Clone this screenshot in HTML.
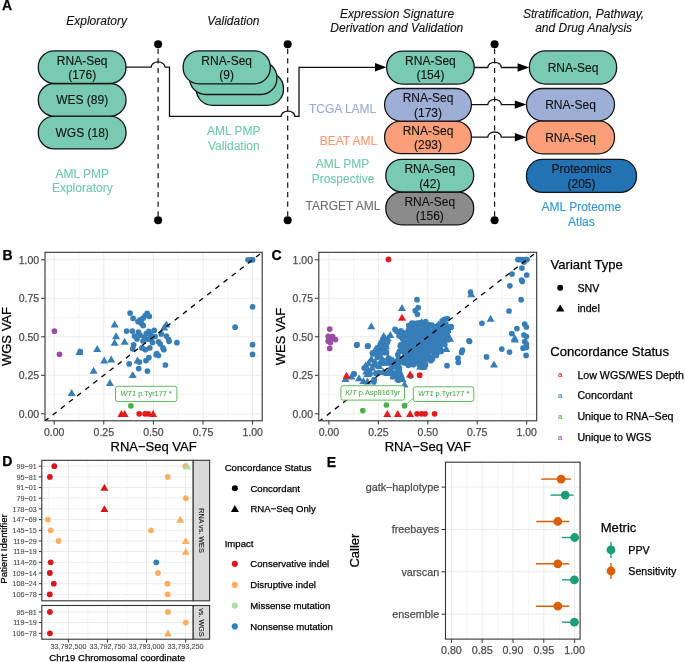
<!DOCTYPE html>
<html><head><meta charset="utf-8"><style>
html,body{margin:0;padding:0;background:#fff;width:685px;height:662px;overflow:hidden}
svg{display:block;will-change:transform;font-family:"Liberation Sans",sans-serif}
</style></head><body>
<svg width="685" height="662" viewBox="0 0 685 662">
<rect width="685" height="662" fill="#fff"/>
<text x="2.0" y="10.0" font-size="14" fill="#000" text-anchor="start" stroke="#000" stroke-width="0.25" font-weight="bold">A</text>
<text x="96.6" y="25.3" font-size="12" fill="#111" text-anchor="middle" stroke="#111" stroke-width="0.12" font-style="italic">Exploratory</text>
<text x="233.4" y="25.3" font-size="12" fill="#111" text-anchor="middle" stroke="#111" stroke-width="0.12" font-style="italic">Validation</text>
<text x="397.1" y="18.2" font-size="12" fill="#111" text-anchor="middle" stroke="#111" stroke-width="0.12" font-style="italic">Expression Signature</text>
<text x="396.8" y="32.2" font-size="12" fill="#111" text-anchor="middle" stroke="#111" stroke-width="0.12" font-style="italic">Derivation and Validation</text>
<text x="583.6" y="18.2" font-size="12" fill="#111" text-anchor="middle" stroke="#111" stroke-width="0.12" font-style="italic">Stratification, Pathway,</text>
<text x="583.6" y="32.2" font-size="12" fill="#111" text-anchor="middle" stroke="#111" stroke-width="0.12" font-style="italic">and Drug Analysis</text>
<line x1="158.1" y1="44.3" x2="158.1" y2="220.2" stroke="#111" stroke-width="1.2" stroke-dasharray="5.2 4.35" stroke-dashoffset="5.05"/>
<circle cx="158.1" cy="44.3" r="4" fill="#000"/>
<circle cx="158.1" cy="220.2" r="4" fill="#000"/>
<line x1="287.7" y1="44.3" x2="287.7" y2="220.2" stroke="#111" stroke-width="1.2" stroke-dasharray="5.2 4.35" stroke-dashoffset="5.05"/>
<circle cx="287.7" cy="44.3" r="4" fill="#000"/>
<circle cx="287.7" cy="220.2" r="4" fill="#000"/>
<line x1="494.6" y1="44.3" x2="494.6" y2="220.2" stroke="#111" stroke-width="1.2" stroke-dasharray="5.2 4.35" stroke-dashoffset="5.05"/>
<circle cx="494.6" cy="44.3" r="4" fill="#000"/>
<circle cx="494.6" cy="220.2" r="4" fill="#000"/>
<path d="M126,67.2 H151.1 A7,5.3 0 0 1 165.1,67.2 H169.5 V116.3 H281.1 A6.9,5.2 0 0 1 294.9,116.3 H299 V67.3 H377" fill="none" stroke="#111" stroke-width="1.3"/>
<path d="M386.6,67.3 L375.0,63.099999999999994 L375.0,71.5 Z" fill="#000"/>
<path d="M474.2,67.5 H487.8 A6.8,5.2 0 0 1 501.4,67.5 H519.2" fill="none" stroke="#111" stroke-width="1.3"/>
<path d="M529.2,67.5 L517.6,63.3 L517.6,71.7 Z" fill="#000"/>
<path d="M471.6,104.6 H487.8 A6.8,5.2 0 0 1 501.4,104.6 H516.4" fill="none" stroke="#111" stroke-width="1.3"/>
<path d="M526.4,104.6 L514.8,100.39999999999999 L514.8,108.8 Z" fill="#000"/>
<path d="M471.4,137.2 H487.8 A6.8,5.2 0 0 1 501.4,137.2 H516.4" fill="none" stroke="#111" stroke-width="1.3"/>
<path d="M526.4,137.2 L514.8,133.0 L514.8,141.39999999999998 Z" fill="#000"/>
<rect x="38.3" y="116.2" width="87.7" height="32.7" rx="16" ry="16" fill="#78cbb2" stroke="#141414" stroke-width="1.3"/>
<text x="82.2" y="136.9" font-size="12" fill="#111" text-anchor="middle" stroke="#111" stroke-width="0.12" >WGS (18)</text>
<rect x="38.3" y="83.5" width="87.7" height="32.7" rx="16" ry="16" fill="#78cbb2" stroke="#141414" stroke-width="1.3"/>
<text x="82.2" y="104.1" font-size="12" fill="#111" text-anchor="middle" stroke="#111" stroke-width="0.12" >WES (89)</text>
<rect x="38.3" y="50.8" width="87.7" height="32.7" rx="16" ry="16" fill="#78cbb2" stroke="#141414" stroke-width="1.3"/>
<text x="82.2" y="64.6" font-size="12" fill="#111" text-anchor="middle" stroke="#111" stroke-width="0.12" >RNA-Seq</text>
<text x="82.2" y="79.0" font-size="12" fill="#111" text-anchor="middle" stroke="#111" stroke-width="0.12" >(176)</text>
<rect x="196.29999999999998" y="72.3" width="87.2" height="33" rx="16" ry="16" fill="#78cbb2" stroke="#141414" stroke-width="1.3"/>
<text x="239.9" y="93.1" font-size="12" fill="#111" text-anchor="middle" stroke="#111" stroke-width="0.12" ></text>
<rect x="189.7" y="61.5" width="87.2" height="33" rx="16" ry="16" fill="#78cbb2" stroke="#141414" stroke-width="1.3"/>
<text x="233.3" y="82.3" font-size="12" fill="#111" text-anchor="middle" stroke="#111" stroke-width="0.12" ></text>
<rect x="183.1" y="50.8" width="87.2" height="33" rx="16" ry="16" fill="#78cbb2" stroke="#141414" stroke-width="1.3"/>
<text x="226.7" y="64.6" font-size="12" fill="#111" text-anchor="middle" stroke="#111" stroke-width="0.12" >RNA-Seq</text>
<text x="226.7" y="79.0" font-size="12" fill="#111" text-anchor="middle" stroke="#111" stroke-width="0.12" >(9)</text>
<rect x="386.7" y="51.1" width="87.5" height="33" rx="16" ry="16" fill="#78cbb2" stroke="#141414" stroke-width="1.3"/>
<text x="430.4" y="64.9" font-size="12" fill="#111" text-anchor="middle" stroke="#111" stroke-width="0.12" >RNA-Seq</text>
<text x="430.4" y="79.3" font-size="12" fill="#111" text-anchor="middle" stroke="#111" stroke-width="0.12" >(154)</text>
<rect x="384.6" y="121.1" width="86.8" height="32.5" rx="16" ry="16" fill="#fc9f78" stroke="#141414" stroke-width="1.3"/>
<text x="428.0" y="134.9" font-size="12" fill="#111" text-anchor="middle" stroke="#111" stroke-width="0.12" >RNA-Seq</text>
<text x="428.0" y="149.3" font-size="12" fill="#111" text-anchor="middle" stroke="#111" stroke-width="0.12" >(293)</text>
<rect x="384.6" y="88.5" width="86.8" height="32.6" rx="16" ry="16" fill="#9dafd7" stroke="#141414" stroke-width="1.3"/>
<text x="428.0" y="102.3" font-size="12" fill="#111" text-anchor="middle" stroke="#111" stroke-width="0.12" >RNA-Seq</text>
<text x="428.0" y="116.7" font-size="12" fill="#111" text-anchor="middle" stroke="#111" stroke-width="0.12" >(173)</text>
<rect x="385.8" y="192" width="87.9" height="32.8" rx="16" ry="16" fill="#8b8b8b" stroke="#141414" stroke-width="1.3"/>
<text x="429.8" y="205.8" font-size="12" fill="#111" text-anchor="middle" stroke="#111" stroke-width="0.12" >RNA-Seq</text>
<text x="429.8" y="220.2" font-size="12" fill="#111" text-anchor="middle" stroke="#111" stroke-width="0.12" >(156)</text>
<rect x="385.8" y="159.3" width="87.9" height="32.7" rx="16" ry="16" fill="#78cbb2" stroke="#141414" stroke-width="1.3"/>
<text x="429.8" y="173.1" font-size="12" fill="#111" text-anchor="middle" stroke="#111" stroke-width="0.12" >RNA-Seq</text>
<text x="429.8" y="187.5" font-size="12" fill="#111" text-anchor="middle" stroke="#111" stroke-width="0.12" >(42)</text>
<rect x="529.4" y="50.8" width="87.2" height="33.3" rx="16" ry="16" fill="#78cbb2" stroke="#141414" stroke-width="1.3"/>
<text x="573.0" y="71.7" font-size="12" fill="#111" text-anchor="middle" stroke="#111" stroke-width="0.12" >RNA-Seq</text>
<rect x="526.5" y="120.8" width="88" height="33" rx="16" ry="16" fill="#fc9f78" stroke="#141414" stroke-width="1.3"/>
<text x="570.5" y="141.6" font-size="12" fill="#111" text-anchor="middle" stroke="#111" stroke-width="0.12" >RNA-Seq</text>
<rect x="526.5" y="88.5" width="88" height="32.3" rx="16" ry="16" fill="#9dafd7" stroke="#141414" stroke-width="1.3"/>
<text x="570.5" y="109.0" font-size="12" fill="#111" text-anchor="middle" stroke="#111" stroke-width="0.12" >RNA-Seq</text>
<rect x="526.5" y="159.4" width="110" height="33" rx="16" ry="16" fill="#2272b4" stroke="#141414" stroke-width="1.3"/>
<text x="581.5" y="173.2" font-size="12" fill="#111" text-anchor="middle" stroke="#111" stroke-width="0.12" >Proteomics</text>
<text x="581.5" y="187.6" font-size="12" fill="#111" text-anchor="middle" stroke="#111" stroke-width="0.12" >(205)</text>
<text x="82.3" y="177.7" font-size="12" fill="#72c9ad" text-anchor="middle" stroke="#72c9ad" stroke-width="0.12" >AML PMP</text>
<text x="82.3" y="192.0" font-size="12" fill="#72c9ad" text-anchor="middle" stroke="#72c9ad" stroke-width="0.12" >Exploratory</text>
<text x="233.8" y="135.2" font-size="12" fill="#72c9ad" text-anchor="middle" stroke="#72c9ad" stroke-width="0.12" >AML PMP</text>
<text x="233.8" y="149.5" font-size="12" fill="#72c9ad" text-anchor="middle" stroke="#72c9ad" stroke-width="0.12" >Validation</text>
<text x="342.6" y="112.8" font-size="12" fill="#9aabd5" text-anchor="middle" stroke="#9aabd5" stroke-width="0.12" >TCGA LAML</text>
<text x="348.5" y="144.8" font-size="12" fill="#fb9a72" text-anchor="middle" stroke="#fb9a72" stroke-width="0.12" >BEAT AML</text>
<text x="342.6" y="168.4" font-size="12" fill="#72c9ad" text-anchor="middle" stroke="#72c9ad" stroke-width="0.12" >AML PMP</text>
<text x="343.0" y="182.9" font-size="12" fill="#72c9ad" text-anchor="middle" stroke="#72c9ad" stroke-width="0.12" >Prospective</text>
<text x="343.0" y="210.1" font-size="12" fill="#707070" text-anchor="middle" stroke="#707070" stroke-width="0.12" >TARGET AML</text>
<text x="581.4" y="210.8" font-size="12" fill="#3596d2" text-anchor="middle" stroke="#3596d2" stroke-width="0.12" >AML Proteome</text>
<text x="581.4" y="225.5" font-size="12" fill="#3596d2" text-anchor="middle" stroke="#3596d2" stroke-width="0.12" >Atlas</text>
<text x="2.6" y="259.8" font-size="14" fill="#000" text-anchor="start" stroke="#000" stroke-width="0.25" font-weight="bold">B</text>
<clipPath id="cb"><rect x="45.0" y="252.3" width="217.2" height="168.5"/></clipPath>
<rect x="45.0" y="252.3" width="217.2" height="168.5" fill="#fff"/>
<line x1="54.2" y1="252.3" x2="54.2" y2="420.8" stroke="#ebebeb" stroke-width="1.0"/>
<line x1="45.0" y1="413.8" x2="262.2" y2="413.8" stroke="#ebebeb" stroke-width="1.0"/>
<line x1="79.0" y1="252.3" x2="79.0" y2="420.8" stroke="#ececec" stroke-width="0.6"/>
<line x1="45.0" y1="394.6" x2="262.2" y2="394.6" stroke="#ececec" stroke-width="0.6"/>
<line x1="103.8" y1="252.3" x2="103.8" y2="420.8" stroke="#ebebeb" stroke-width="1.0"/>
<line x1="45.0" y1="375.3" x2="262.2" y2="375.3" stroke="#ebebeb" stroke-width="1.0"/>
<line x1="128.6" y1="252.3" x2="128.6" y2="420.8" stroke="#ececec" stroke-width="0.6"/>
<line x1="45.0" y1="356.1" x2="262.2" y2="356.1" stroke="#ececec" stroke-width="0.6"/>
<line x1="153.4" y1="252.3" x2="153.4" y2="420.8" stroke="#ebebeb" stroke-width="1.0"/>
<line x1="45.0" y1="336.8" x2="262.2" y2="336.8" stroke="#ebebeb" stroke-width="1.0"/>
<line x1="178.2" y1="252.3" x2="178.2" y2="420.8" stroke="#ececec" stroke-width="0.6"/>
<line x1="45.0" y1="317.6" x2="262.2" y2="317.6" stroke="#ececec" stroke-width="0.6"/>
<line x1="203.0" y1="252.3" x2="203.0" y2="420.8" stroke="#ebebeb" stroke-width="1.0"/>
<line x1="45.0" y1="298.3" x2="262.2" y2="298.3" stroke="#ebebeb" stroke-width="1.0"/>
<line x1="227.8" y1="252.3" x2="227.8" y2="420.8" stroke="#ececec" stroke-width="0.6"/>
<line x1="45.0" y1="279.1" x2="262.2" y2="279.1" stroke="#ececec" stroke-width="0.6"/>
<line x1="252.6" y1="252.3" x2="252.6" y2="420.8" stroke="#ebebeb" stroke-width="1.0"/>
<line x1="45.0" y1="259.8" x2="262.2" y2="259.8" stroke="#ebebeb" stroke-width="1.0"/>
<line x1="41.0" y1="413.8" x2="45.0" y2="413.8" stroke="#333" stroke-width="1"/>
<line x1="54.2" y1="420.8" x2="54.2" y2="424.6" stroke="#333" stroke-width="1"/>
<text x="39.2" y="417.6" font-size="10.5" fill="#4d4d4d" text-anchor="end" stroke="#4d4d4d" stroke-width="0.25" >0.00</text>
<text x="54.2" y="436.2" font-size="10.5" fill="#4d4d4d" text-anchor="middle" stroke="#4d4d4d" stroke-width="0.25" >0.00</text>
<line x1="41.0" y1="375.3" x2="45.0" y2="375.3" stroke="#333" stroke-width="1"/>
<line x1="103.8" y1="420.8" x2="103.8" y2="424.6" stroke="#333" stroke-width="1"/>
<text x="39.2" y="379.1" font-size="10.5" fill="#4d4d4d" text-anchor="end" stroke="#4d4d4d" stroke-width="0.25" >0.25</text>
<text x="103.8" y="436.2" font-size="10.5" fill="#4d4d4d" text-anchor="middle" stroke="#4d4d4d" stroke-width="0.25" >0.25</text>
<line x1="41.0" y1="336.8" x2="45.0" y2="336.8" stroke="#333" stroke-width="1"/>
<line x1="153.4" y1="420.8" x2="153.4" y2="424.6" stroke="#333" stroke-width="1"/>
<text x="39.2" y="340.6" font-size="10.5" fill="#4d4d4d" text-anchor="end" stroke="#4d4d4d" stroke-width="0.25" >0.50</text>
<text x="153.4" y="436.2" font-size="10.5" fill="#4d4d4d" text-anchor="middle" stroke="#4d4d4d" stroke-width="0.25" >0.50</text>
<line x1="41.0" y1="298.3" x2="45.0" y2="298.3" stroke="#333" stroke-width="1"/>
<line x1="203.0" y1="420.8" x2="203.0" y2="424.6" stroke="#333" stroke-width="1"/>
<text x="39.2" y="302.1" font-size="10.5" fill="#4d4d4d" text-anchor="end" stroke="#4d4d4d" stroke-width="0.25" >0.75</text>
<text x="203.0" y="436.2" font-size="10.5" fill="#4d4d4d" text-anchor="middle" stroke="#4d4d4d" stroke-width="0.25" >0.75</text>
<line x1="41.0" y1="259.8" x2="45.0" y2="259.8" stroke="#333" stroke-width="1"/>
<line x1="252.6" y1="420.8" x2="252.6" y2="424.6" stroke="#333" stroke-width="1"/>
<text x="39.2" y="263.6" font-size="10.5" fill="#4d4d4d" text-anchor="end" stroke="#4d4d4d" stroke-width="0.25" >1.00</text>
<text x="252.6" y="436.2" font-size="10.5" fill="#4d4d4d" text-anchor="middle" stroke="#4d4d4d" stroke-width="0.25" >1.00</text>
<text x="153.6" y="450.7" font-size="13" fill="#000" text-anchor="middle" stroke="#000" stroke-width="0.25" >RNA−Seq VAF</text>
<text x="0" y="0" font-size="13" fill="#000" stroke="#000" stroke-width="0.25" text-anchor="middle" transform="translate(11.0,336.55) rotate(-90)">WGS VAF</text>
<g clip-path="url(#cb)">
<circle cx="130.1" cy="313.1" r="2.85" fill="#377eb8"/>
<circle cx="133.1" cy="318.3" r="2.85" fill="#377eb8"/>
<circle cx="147.2" cy="313.3" r="2.85" fill="#377eb8"/>
<circle cx="149.3" cy="316.4" r="2.85" fill="#377eb8"/>
<circle cx="145.4" cy="315.5" r="2.85" fill="#377eb8"/>
<circle cx="143.2" cy="318.1" r="2.85" fill="#377eb8"/>
<circle cx="140.1" cy="319.9" r="2.85" fill="#377eb8"/>
<circle cx="138.0" cy="321.6" r="2.85" fill="#377eb8"/>
<circle cx="143.2" cy="325.6" r="2.85" fill="#377eb8"/>
<circle cx="141.5" cy="323.4" r="2.85" fill="#377eb8"/>
<circle cx="126.6" cy="331.1" r="2.85" fill="#377eb8"/>
<circle cx="132.3" cy="331.1" r="2.85" fill="#377eb8"/>
<circle cx="138.4" cy="332.2" r="2.85" fill="#377eb8"/>
<circle cx="134.5" cy="336.1" r="2.85" fill="#377eb8"/>
<circle cx="140.1" cy="335.2" r="2.85" fill="#377eb8"/>
<circle cx="146.3" cy="333.5" r="2.85" fill="#377eb8"/>
<circle cx="148.9" cy="331.3" r="2.85" fill="#377eb8"/>
<circle cx="154.2" cy="330.4" r="2.85" fill="#377eb8"/>
<circle cx="144.5" cy="337.4" r="2.85" fill="#377eb8"/>
<circle cx="148.0" cy="339.2" r="2.85" fill="#377eb8"/>
<circle cx="151.5" cy="338.3" r="2.85" fill="#377eb8"/>
<circle cx="155.0" cy="336.5" r="2.85" fill="#377eb8"/>
<circle cx="161.2" cy="333.9" r="2.85" fill="#377eb8"/>
<circle cx="166.4" cy="336.1" r="2.85" fill="#377eb8"/>
<circle cx="168.6" cy="339.6" r="2.85" fill="#377eb8"/>
<circle cx="169.0" cy="341.3" r="2.85" fill="#377eb8"/>
<circle cx="176.9" cy="342.7" r="2.85" fill="#377eb8"/>
<circle cx="158.5" cy="341.8" r="2.85" fill="#377eb8"/>
<circle cx="160.3" cy="344.0" r="2.85" fill="#377eb8"/>
<circle cx="162.9" cy="347.9" r="2.85" fill="#377eb8"/>
<circle cx="163.8" cy="349.7" r="2.85" fill="#377eb8"/>
<circle cx="133.6" cy="344.9" r="2.85" fill="#377eb8"/>
<circle cx="132.7" cy="348.8" r="2.85" fill="#377eb8"/>
<circle cx="141.9" cy="347.9" r="2.85" fill="#377eb8"/>
<circle cx="145.4" cy="349.7" r="2.85" fill="#377eb8"/>
<circle cx="149.8" cy="347.9" r="2.85" fill="#377eb8"/>
<circle cx="156.8" cy="353.6" r="2.85" fill="#377eb8"/>
<circle cx="156.2" cy="354.7" r="2.85" fill="#377eb8"/>
<circle cx="158.4" cy="355.5" r="2.85" fill="#377eb8"/>
<circle cx="148.9" cy="357.7" r="2.85" fill="#377eb8"/>
<circle cx="146.0" cy="360.6" r="2.85" fill="#377eb8"/>
<circle cx="139.4" cy="362.0" r="2.85" fill="#377eb8"/>
<circle cx="129.2" cy="363.9" r="2.85" fill="#377eb8"/>
<circle cx="138.7" cy="368.6" r="2.85" fill="#377eb8"/>
<circle cx="147.4" cy="371.1" r="2.85" fill="#377eb8"/>
<circle cx="165.4" cy="365.0" r="2.85" fill="#377eb8"/>
<circle cx="80.3" cy="351.6" r="2.85" fill="#377eb8"/>
<circle cx="252.6" cy="306.8" r="2.85" fill="#377eb8"/>
<circle cx="235.1" cy="327.2" r="2.85" fill="#377eb8"/>
<circle cx="252.6" cy="344.7" r="2.85" fill="#377eb8"/>
<circle cx="252.6" cy="354.4" r="2.85" fill="#377eb8"/>
<circle cx="248.0" cy="259.8" r="2.85" fill="#377eb8"/>
<circle cx="250.6" cy="259.8" r="2.85" fill="#377eb8"/>
<circle cx="252.6" cy="259.8" r="2.85" fill="#377eb8"/>
<circle cx="150.5" cy="334.5" r="2.85" fill="#377eb8"/>
<circle cx="143.0" cy="341.0" r="2.85" fill="#377eb8"/>
<circle cx="152.5" cy="342.5" r="2.85" fill="#377eb8"/>
<circle cx="137.0" cy="339.0" r="2.85" fill="#377eb8"/>
<path d="M114.6,320.6 L118.6,327.6 L110.6,327.6 Z" fill="#377eb8"/>
<path d="M116.1,332.3 L120.1,339.3 L112.1,339.3 Z" fill="#377eb8"/>
<path d="M114.6,338.8 L118.6,345.8 L110.6,345.8 Z" fill="#377eb8"/>
<path d="M124.6,337.8 L128.6,344.8 L120.6,344.8 Z" fill="#377eb8"/>
<path d="M104.2,356.4 L108.2,363.4 L100.2,363.4 Z" fill="#377eb8"/>
<path d="M111.2,355.6 L115.2,362.6 L107.2,362.6 Z" fill="#377eb8"/>
<path d="M137.5,356.4 L141.5,363.4 L133.5,363.4 Z" fill="#377eb8"/>
<path d="M132.8,371.0 L136.8,378.0 L128.8,378.0 Z" fill="#377eb8"/>
<path d="M166.4,320.6 L170.4,327.6 L162.4,327.6 Z" fill="#377eb8"/>
<path d="M164.2,323.5 L168.2,330.5 L160.2,330.5 Z" fill="#377eb8"/>
<path d="M71.7,389.1 L75.7,396.1 L67.7,396.1 Z" fill="#377eb8"/>
<path d="M79.4,347.9 L83.4,354.9 L75.4,354.9 Z" fill="#377eb8"/>
<path d="M97.2,345.1 L101.2,352.1 L93.2,352.1 Z" fill="#377eb8"/>
<path d="M93.6,366.8 L97.6,373.8 L89.6,373.8 Z" fill="#377eb8"/>
<path d="M109.9,379.1 L113.9,386.1 L105.9,386.1 Z" fill="#377eb8"/>
<circle cx="54.4" cy="331.2" r="2.85" fill="#984ea3"/>
<circle cx="59.5" cy="354.3" r="2.85" fill="#984ea3"/>
<circle cx="130.9" cy="405.8" r="2.85" fill="#4daf4a"/>
<path d="M121.4,410.1 L125.4,417.1 L117.4,417.1 Z" fill="#e41a1c"/>
<path d="M124.6,410.1 L128.6,417.1 L120.6,417.1 Z" fill="#e41a1c"/>
<path d="M153.1,410.1 L157.1,417.1 L149.1,417.1 Z" fill="#e41a1c"/>
<circle cx="139.2" cy="413.8" r="2.85" fill="#e41a1c"/>
<circle cx="145.0" cy="413.8" r="2.85" fill="#e41a1c"/>
<circle cx="148.2" cy="413.8" r="2.85" fill="#e41a1c"/>
<line x1="36.34" y1="427.66" x2="270.46" y2="245.94" stroke="#000" stroke-width="1.3" stroke-dasharray="5.0 5.3" stroke-dashoffset="10.24"/>
</g>
<rect x="45.0" y="252.3" width="217.2" height="168.5" fill="none" stroke="#333" stroke-width="1.1"/>
<rect x="115.5" y="386.3" width="61.4" height="15.3" rx="2" fill="#fff" stroke="#62b960" stroke-width="1"/>
<text x="146.2" y="396.3" font-size="7.4" fill="#4dae4a" stroke="#4dae4a" stroke-width="0.1" text-anchor="middle"><tspan font-style="italic">WT1</tspan> p.Tyr177 *</text>
<text x="271.5" y="259.8" font-size="14" fill="#000" text-anchor="start" stroke="#000" stroke-width="0.25" font-weight="bold">C</text>
<clipPath id="cc"><rect x="318.8" y="252.3" width="217.90000000000003" height="168.5"/></clipPath>
<rect x="318.8" y="252.3" width="217.90000000000003" height="168.5" fill="#fff"/>
<line x1="328.9" y1="252.3" x2="328.9" y2="420.8" stroke="#ebebeb" stroke-width="1.0"/>
<line x1="318.8" y1="413.8" x2="536.7" y2="413.8" stroke="#ebebeb" stroke-width="1.0"/>
<line x1="353.6" y1="252.3" x2="353.6" y2="420.8" stroke="#ececec" stroke-width="0.6"/>
<line x1="318.8" y1="394.6" x2="536.7" y2="394.6" stroke="#ececec" stroke-width="0.6"/>
<line x1="378.4" y1="252.3" x2="378.4" y2="420.8" stroke="#ebebeb" stroke-width="1.0"/>
<line x1="318.8" y1="375.3" x2="536.7" y2="375.3" stroke="#ebebeb" stroke-width="1.0"/>
<line x1="403.1" y1="252.3" x2="403.1" y2="420.8" stroke="#ececec" stroke-width="0.6"/>
<line x1="318.8" y1="356.1" x2="536.7" y2="356.1" stroke="#ececec" stroke-width="0.6"/>
<line x1="427.8" y1="252.3" x2="427.8" y2="420.8" stroke="#ebebeb" stroke-width="1.0"/>
<line x1="318.8" y1="336.8" x2="536.7" y2="336.8" stroke="#ebebeb" stroke-width="1.0"/>
<line x1="452.5" y1="252.3" x2="452.5" y2="420.8" stroke="#ececec" stroke-width="0.6"/>
<line x1="318.8" y1="317.6" x2="536.7" y2="317.6" stroke="#ececec" stroke-width="0.6"/>
<line x1="477.2" y1="252.3" x2="477.2" y2="420.8" stroke="#ebebeb" stroke-width="1.0"/>
<line x1="318.8" y1="298.3" x2="536.7" y2="298.3" stroke="#ebebeb" stroke-width="1.0"/>
<line x1="502.0" y1="252.3" x2="502.0" y2="420.8" stroke="#ececec" stroke-width="0.6"/>
<line x1="318.8" y1="279.1" x2="536.7" y2="279.1" stroke="#ececec" stroke-width="0.6"/>
<line x1="526.7" y1="252.3" x2="526.7" y2="420.8" stroke="#ebebeb" stroke-width="1.0"/>
<line x1="318.8" y1="259.8" x2="536.7" y2="259.8" stroke="#ebebeb" stroke-width="1.0"/>
<line x1="314.8" y1="413.8" x2="318.8" y2="413.8" stroke="#333" stroke-width="1"/>
<line x1="328.9" y1="420.8" x2="328.9" y2="424.6" stroke="#333" stroke-width="1"/>
<text x="313.0" y="417.6" font-size="10.5" fill="#4d4d4d" text-anchor="end" stroke="#4d4d4d" stroke-width="0.25" >0.00</text>
<text x="328.9" y="436.2" font-size="10.5" fill="#4d4d4d" text-anchor="middle" stroke="#4d4d4d" stroke-width="0.25" >0.00</text>
<line x1="314.8" y1="375.3" x2="318.8" y2="375.3" stroke="#333" stroke-width="1"/>
<line x1="378.4" y1="420.8" x2="378.4" y2="424.6" stroke="#333" stroke-width="1"/>
<text x="313.0" y="379.1" font-size="10.5" fill="#4d4d4d" text-anchor="end" stroke="#4d4d4d" stroke-width="0.25" >0.25</text>
<text x="378.4" y="436.2" font-size="10.5" fill="#4d4d4d" text-anchor="middle" stroke="#4d4d4d" stroke-width="0.25" >0.25</text>
<line x1="314.8" y1="336.8" x2="318.8" y2="336.8" stroke="#333" stroke-width="1"/>
<line x1="427.8" y1="420.8" x2="427.8" y2="424.6" stroke="#333" stroke-width="1"/>
<text x="313.0" y="340.6" font-size="10.5" fill="#4d4d4d" text-anchor="end" stroke="#4d4d4d" stroke-width="0.25" >0.50</text>
<text x="427.8" y="436.2" font-size="10.5" fill="#4d4d4d" text-anchor="middle" stroke="#4d4d4d" stroke-width="0.25" >0.50</text>
<line x1="314.8" y1="298.3" x2="318.8" y2="298.3" stroke="#333" stroke-width="1"/>
<line x1="477.2" y1="420.8" x2="477.2" y2="424.6" stroke="#333" stroke-width="1"/>
<text x="313.0" y="302.1" font-size="10.5" fill="#4d4d4d" text-anchor="end" stroke="#4d4d4d" stroke-width="0.25" >0.75</text>
<text x="477.2" y="436.2" font-size="10.5" fill="#4d4d4d" text-anchor="middle" stroke="#4d4d4d" stroke-width="0.25" >0.75</text>
<line x1="314.8" y1="259.8" x2="318.8" y2="259.8" stroke="#333" stroke-width="1"/>
<line x1="526.7" y1="420.8" x2="526.7" y2="424.6" stroke="#333" stroke-width="1"/>
<text x="313.0" y="263.6" font-size="10.5" fill="#4d4d4d" text-anchor="end" stroke="#4d4d4d" stroke-width="0.25" >1.00</text>
<text x="526.7" y="436.2" font-size="10.5" fill="#4d4d4d" text-anchor="middle" stroke="#4d4d4d" stroke-width="0.25" >1.00</text>
<text x="427.8" y="450.7" font-size="13" fill="#000" text-anchor="middle" stroke="#000" stroke-width="0.25" >RNA−Seq VAF</text>
<text x="0" y="0" font-size="13" fill="#000" stroke="#000" stroke-width="0.25" text-anchor="middle" transform="translate(284.8,336.55) rotate(-90)">WES VAF</text>
<g clip-path="url(#cc)">
<g clip-path="url(#cc)"><path d="M400.4,332.7 L408.5,335.4 L411.3,329.6 L415.9,326.7 L423.9,326.8 L428.5,329.0 L433.9,328.9 L442.0,322.9 L444.8,330.0 L445.0,338.4 L439.2,344.9 L435.8,348.8 L433.0,352.7 L430.3,355.3 L425.3,360.6 L421.3,363.1 L417.3,358.5 L411.6,360.1 L407.1,360.0 L402.4,358.1 L401.9,352.0 L404.0,346.2 L408.0,341.6 L402.7,337.3 Z" fill="#377eb8"/></g>
<circle cx="396.7" cy="331.2" r="2.85" fill="#377eb8"/>
<circle cx="401.6" cy="332.4" r="2.85" fill="#377eb8"/>
<circle cx="403.6" cy="332.9" r="2.85" fill="#377eb8"/>
<path d="M407.2,326.9 L411.2,333.8 L403.2,333.8 Z" fill="#377eb8"/>
<circle cx="408.8" cy="325.3" r="2.85" fill="#377eb8"/>
<circle cx="411.9" cy="323.0" r="2.85" fill="#377eb8"/>
<circle cx="414.2" cy="323.4" r="2.85" fill="#377eb8"/>
<circle cx="417.3" cy="323.1" r="2.85" fill="#377eb8"/>
<path d="M421.7,318.1 L425.7,325.0 L417.7,325.0 Z" fill="#377eb8"/>
<circle cx="425.7" cy="321.7" r="2.85" fill="#377eb8"/>
<circle cx="428.9" cy="324.6" r="2.85" fill="#377eb8"/>
<circle cx="431.8" cy="325.2" r="2.85" fill="#377eb8"/>
<circle cx="436.2" cy="326.7" r="2.85" fill="#377eb8"/>
<circle cx="440.8" cy="324.6" r="2.85" fill="#377eb8"/>
<circle cx="442.2" cy="320.9" r="2.85" fill="#377eb8"/>
<circle cx="444.3" cy="319.3" r="2.85" fill="#377eb8"/>
<circle cx="445.8" cy="324.2" r="2.85" fill="#377eb8"/>
<circle cx="448.3" cy="328.6" r="2.85" fill="#377eb8"/>
<circle cx="448.5" cy="331.0" r="2.85" fill="#377eb8"/>
<path d="M448.1,332.0 L452.1,338.9 L444.1,338.9 Z" fill="#377eb8"/>
<path d="M450.1,334.9 L454.1,341.8 L446.1,341.8 Z" fill="#377eb8"/>
<circle cx="448.2" cy="339.8" r="2.85" fill="#377eb8"/>
<circle cx="444.4" cy="341.6" r="2.85" fill="#377eb8"/>
<circle cx="444.8" cy="344.6" r="2.85" fill="#377eb8"/>
<circle cx="441.1" cy="351.4" r="2.85" fill="#377eb8"/>
<circle cx="436.3" cy="355.4" r="2.85" fill="#377eb8"/>
<circle cx="432.3" cy="359.3" r="2.85" fill="#377eb8"/>
<circle cx="430.8" cy="360.7" r="2.85" fill="#377eb8"/>
<circle cx="425.6" cy="364.5" r="2.85" fill="#377eb8"/>
<circle cx="422.5" cy="367.2" r="2.85" fill="#377eb8"/>
<circle cx="419.1" cy="364.8" r="2.85" fill="#377eb8"/>
<circle cx="415.6" cy="361.9" r="2.85" fill="#377eb8"/>
<circle cx="413.4" cy="364.7" r="2.85" fill="#377eb8"/>
<circle cx="408.4" cy="365.3" r="2.85" fill="#377eb8"/>
<circle cx="404.0" cy="362.8" r="2.85" fill="#377eb8"/>
<circle cx="399.7" cy="360.8" r="2.85" fill="#377eb8"/>
<path d="M397.3,355.0 L401.3,361.9 L393.3,361.9 Z" fill="#377eb8"/>
<circle cx="397.8" cy="354.7" r="2.85" fill="#377eb8"/>
<circle cx="399.3" cy="351.5" r="2.85" fill="#377eb8"/>
<circle cx="400.3" cy="346.0" r="2.85" fill="#377eb8"/>
<circle cx="400.7" cy="344.8" r="2.85" fill="#377eb8"/>
<circle cx="403.5" cy="342.2" r="2.85" fill="#377eb8"/>
<circle cx="402.2" cy="338.3" r="2.85" fill="#377eb8"/>
<circle cx="399.0" cy="335.8" r="2.85" fill="#377eb8"/>
<circle cx="400.9" cy="330.8" r="2.85" fill="#377eb8"/>
<path d="M402.6,331.6 L406.6,338.5 L398.6,338.5 Z" fill="#377eb8"/>
<circle cx="408.8" cy="335.4" r="2.85" fill="#377eb8"/>
<circle cx="412.3" cy="328.0" r="2.85" fill="#377eb8"/>
<circle cx="416.2" cy="325.1" r="2.85" fill="#377eb8"/>
<circle cx="419.1" cy="326.9" r="2.85" fill="#377eb8"/>
<circle cx="425.0" cy="325.0" r="2.85" fill="#377eb8"/>
<circle cx="429.0" cy="327.3" r="2.85" fill="#377eb8"/>
<circle cx="434.3" cy="326.9" r="2.85" fill="#377eb8"/>
<circle cx="438.2" cy="325.4" r="2.85" fill="#377eb8"/>
<circle cx="443.2" cy="321.9" r="2.85" fill="#377eb8"/>
<circle cx="445.7" cy="325.8" r="2.85" fill="#377eb8"/>
<circle cx="444.2" cy="328.5" r="2.85" fill="#377eb8"/>
<circle cx="447.2" cy="334.4" r="2.85" fill="#377eb8"/>
<circle cx="445.4" cy="338.2" r="2.85" fill="#377eb8"/>
<path d="M441.9,337.0 L445.9,343.9 L437.9,343.9 Z" fill="#377eb8"/>
<circle cx="440.1" cy="346.0" r="2.85" fill="#377eb8"/>
<circle cx="436.5" cy="349.2" r="2.85" fill="#377eb8"/>
<circle cx="435.1" cy="352.8" r="2.85" fill="#377eb8"/>
<circle cx="430.4" cy="357.0" r="2.85" fill="#377eb8"/>
<circle cx="429.5" cy="358.3" r="2.85" fill="#377eb8"/>
<circle cx="424.3" cy="362.8" r="2.85" fill="#377eb8"/>
<circle cx="421.3" cy="363.0" r="2.85" fill="#377eb8"/>
<circle cx="416.8" cy="360.5" r="2.85" fill="#377eb8"/>
<path d="M411.9,356.9 L415.9,363.8 L407.9,363.8 Z" fill="#377eb8"/>
<circle cx="407.6" cy="362.1" r="2.85" fill="#377eb8"/>
<circle cx="401.6" cy="358.7" r="2.85" fill="#377eb8"/>
<circle cx="399.7" cy="351.1" r="2.85" fill="#377eb8"/>
<circle cx="403.2" cy="346.3" r="2.85" fill="#377eb8"/>
<circle cx="407.3" cy="342.1" r="2.85" fill="#377eb8"/>
<circle cx="400.5" cy="335.5" r="2.85" fill="#377eb8"/>
<path d="M382.0,337.1 L386.0,344.0 L378.0,344.0 Z" fill="#377eb8"/>
<path d="M384.0,333.8 L388.0,340.8 L380.0,340.8 Z" fill="#377eb8"/>
<path d="M387.8,334.4 L391.8,341.3 L383.8,341.3 Z" fill="#377eb8"/>
<circle cx="387.5" cy="342.2" r="2.85" fill="#377eb8"/>
<path d="M385.9,342.6 L389.9,349.5 L381.9,349.5 Z" fill="#377eb8"/>
<path d="M384.2,345.6 L388.2,352.5 L380.2,352.5 Z" fill="#377eb8"/>
<circle cx="386.5" cy="352.2" r="2.85" fill="#377eb8"/>
<path d="M388.2,353.1 L392.2,360.0 L384.2,360.0 Z" fill="#377eb8"/>
<circle cx="389.5" cy="358.9" r="2.85" fill="#377eb8"/>
<path d="M393.1,356.2 L397.1,363.2 L389.1,363.2 Z" fill="#377eb8"/>
<circle cx="396.1" cy="362.4" r="2.85" fill="#377eb8"/>
<path d="M398.6,360.9 L402.6,367.8 L394.6,367.8 Z" fill="#377eb8"/>
<circle cx="399.3" cy="370.7" r="2.85" fill="#377eb8"/>
<path d="M400.9,371.1 L404.9,378.0 L396.9,378.0 Z" fill="#377eb8"/>
<path d="M398.0,374.5 L402.0,381.4 L394.0,381.4 Z" fill="#377eb8"/>
<path d="M393.6,372.5 L397.6,379.4 L389.6,379.4 Z" fill="#377eb8"/>
<circle cx="390.9" cy="373.5" r="2.85" fill="#377eb8"/>
<path d="M387.3,369.0 L391.3,375.9 L383.3,375.9 Z" fill="#377eb8"/>
<path d="M383.4,368.0 L387.4,374.9 L379.4,374.9 Z" fill="#377eb8"/>
<circle cx="378.7" cy="372.7" r="2.85" fill="#377eb8"/>
<circle cx="375.8" cy="373.3" r="2.85" fill="#377eb8"/>
<circle cx="370.0" cy="373.9" r="2.85" fill="#377eb8"/>
<path d="M367.4,370.2 L371.4,377.1 L363.4,377.1 Z" fill="#377eb8"/>
<circle cx="364.2" cy="367.9" r="2.85" fill="#377eb8"/>
<path d="M365.6,361.5 L369.6,368.5 L361.6,368.5 Z" fill="#377eb8"/>
<path d="M368.5,359.3 L372.5,366.2 L364.5,366.2 Z" fill="#377eb8"/>
<path d="M371.3,354.9 L375.3,361.9 L367.3,361.9 Z" fill="#377eb8"/>
<circle cx="372.4" cy="353.2" r="2.85" fill="#377eb8"/>
<path d="M374.2,347.4 L378.2,354.3 L370.2,354.3 Z" fill="#377eb8"/>
<path d="M376.0,344.6 L380.0,351.6 L372.0,351.6 Z" fill="#377eb8"/>
<path d="M379.4,340.7 L383.4,347.6 L375.4,347.6 Z" fill="#377eb8"/>
<circle cx="417.4" cy="336.3" r="2.85" fill="#377eb8"/>
<path d="M420.2,362.7 L424.2,369.7 L416.2,369.7 Z" fill="#377eb8"/>
<path d="M423.8,346.7 L427.8,353.6 L419.8,353.6 Z" fill="#377eb8"/>
<circle cx="411.5" cy="355.1" r="2.85" fill="#377eb8"/>
<circle cx="426.3" cy="359.1" r="2.85" fill="#377eb8"/>
<circle cx="405.4" cy="353.4" r="2.85" fill="#377eb8"/>
<circle cx="404.7" cy="361.1" r="2.85" fill="#377eb8"/>
<path d="M447.7,323.1 L451.7,330.0 L443.7,330.0 Z" fill="#377eb8"/>
<circle cx="414.4" cy="337.7" r="2.85" fill="#377eb8"/>
<circle cx="423.9" cy="349.6" r="2.85" fill="#377eb8"/>
<path d="M401.6,346.4 L405.6,353.3 L397.6,353.3 Z" fill="#377eb8"/>
<circle cx="410.6" cy="353.4" r="2.85" fill="#377eb8"/>
<circle cx="425.9" cy="340.7" r="2.85" fill="#377eb8"/>
<circle cx="408.0" cy="339.7" r="2.85" fill="#377eb8"/>
<path d="M416.1,330.0 L420.1,337.0 L412.1,337.0 Z" fill="#377eb8"/>
<circle cx="419.8" cy="355.4" r="2.85" fill="#377eb8"/>
<circle cx="436.6" cy="339.2" r="2.85" fill="#377eb8"/>
<circle cx="410.9" cy="353.0" r="2.85" fill="#377eb8"/>
<path d="M444.0,326.3 L448.0,333.2 L440.0,333.2 Z" fill="#377eb8"/>
<circle cx="412.2" cy="349.9" r="2.85" fill="#377eb8"/>
<path d="M424.3,319.4 L428.3,326.3 L420.3,326.3 Z" fill="#377eb8"/>
<path d="M423.9,351.2 L427.9,358.1 L419.9,358.1 Z" fill="#377eb8"/>
<circle cx="416.6" cy="355.1" r="2.85" fill="#377eb8"/>
<circle cx="424.1" cy="337.1" r="2.85" fill="#377eb8"/>
<circle cx="421.6" cy="345.6" r="2.85" fill="#377eb8"/>
<circle cx="423.0" cy="332.1" r="2.85" fill="#377eb8"/>
<circle cx="434.0" cy="340.9" r="2.85" fill="#377eb8"/>
<circle cx="427.2" cy="336.3" r="2.85" fill="#377eb8"/>
<circle cx="401.2" cy="361.9" r="2.85" fill="#377eb8"/>
<circle cx="427.9" cy="353.6" r="2.85" fill="#377eb8"/>
<path d="M427.6,321.9 L431.6,328.8 L423.6,328.8 Z" fill="#377eb8"/>
<circle cx="409.8" cy="341.8" r="2.85" fill="#377eb8"/>
<path d="M408.4,356.2 L412.4,363.1 L404.4,363.1 Z" fill="#377eb8"/>
<circle cx="409.4" cy="328.2" r="2.85" fill="#377eb8"/>
<circle cx="411.1" cy="357.2" r="2.85" fill="#377eb8"/>
<circle cx="421.5" cy="336.1" r="2.85" fill="#377eb8"/>
<circle cx="421.2" cy="326.2" r="2.85" fill="#377eb8"/>
<circle cx="402.3" cy="349.4" r="2.85" fill="#377eb8"/>
<circle cx="409.3" cy="362.7" r="2.85" fill="#377eb8"/>
<circle cx="417.3" cy="349.8" r="2.85" fill="#377eb8"/>
<circle cx="415.8" cy="325.6" r="2.85" fill="#377eb8"/>
<circle cx="423.1" cy="325.7" r="2.85" fill="#377eb8"/>
<circle cx="428.8" cy="334.3" r="2.85" fill="#377eb8"/>
<circle cx="427.5" cy="358.4" r="2.85" fill="#377eb8"/>
<circle cx="436.3" cy="327.0" r="2.85" fill="#377eb8"/>
<circle cx="423.7" cy="341.8" r="2.85" fill="#377eb8"/>
<circle cx="407.7" cy="362.5" r="2.85" fill="#377eb8"/>
<path d="M404.9,341.9 L408.9,348.9 L400.9,348.9 Z" fill="#377eb8"/>
<circle cx="430.4" cy="337.5" r="2.85" fill="#377eb8"/>
<circle cx="420.4" cy="322.7" r="2.85" fill="#377eb8"/>
<circle cx="410.1" cy="330.4" r="2.85" fill="#377eb8"/>
<circle cx="412.0" cy="325.4" r="2.85" fill="#377eb8"/>
<circle cx="416.6" cy="353.7" r="2.85" fill="#377eb8"/>
<circle cx="408.2" cy="357.6" r="2.85" fill="#377eb8"/>
<circle cx="427.1" cy="346.1" r="2.85" fill="#377eb8"/>
<circle cx="448.2" cy="327.3" r="2.85" fill="#377eb8"/>
<circle cx="433.0" cy="339.1" r="2.85" fill="#377eb8"/>
<path d="M435.1,339.8 L439.1,346.7 L431.1,346.7 Z" fill="#377eb8"/>
<circle cx="441.6" cy="337.7" r="2.85" fill="#377eb8"/>
<circle cx="413.4" cy="359.4" r="2.85" fill="#377eb8"/>
<circle cx="425.2" cy="326.4" r="2.85" fill="#377eb8"/>
<circle cx="421.6" cy="348.1" r="2.85" fill="#377eb8"/>
<circle cx="405.0" cy="342.5" r="2.85" fill="#377eb8"/>
<circle cx="421.4" cy="329.5" r="2.85" fill="#377eb8"/>
<circle cx="406.8" cy="363.5" r="2.85" fill="#377eb8"/>
<circle cx="410.9" cy="351.4" r="2.85" fill="#377eb8"/>
<circle cx="434.7" cy="335.4" r="2.85" fill="#377eb8"/>
<circle cx="434.4" cy="355.4" r="2.85" fill="#377eb8"/>
<circle cx="420.6" cy="363.2" r="2.85" fill="#377eb8"/>
<circle cx="409.4" cy="344.4" r="2.85" fill="#377eb8"/>
<path d="M374.1,349.4 L378.1,356.3 L370.1,356.3 Z" fill="#377eb8"/>
<path d="M399.6,367.6 L403.6,374.5 L395.6,374.5 Z" fill="#377eb8"/>
<path d="M389.2,366.5 L393.2,373.4 L385.2,373.4 Z" fill="#377eb8"/>
<circle cx="379.6" cy="349.5" r="2.85" fill="#377eb8"/>
<path d="M386.0,336.6 L390.0,343.5 L382.0,343.5 Z" fill="#377eb8"/>
<path d="M393.5,371.0 L397.5,377.9 L389.5,377.9 Z" fill="#377eb8"/>
<path d="M381.3,359.2 L385.3,366.1 L377.3,366.1 Z" fill="#377eb8"/>
<path d="M393.8,358.8 L397.8,365.7 L389.8,365.7 Z" fill="#377eb8"/>
<path d="M390.6,365.2 L394.6,372.1 L386.6,372.1 Z" fill="#377eb8"/>
<path d="M386.6,358.3 L390.6,365.2 L382.6,365.2 Z" fill="#377eb8"/>
<path d="M395.0,362.7 L399.0,369.7 L391.0,369.7 Z" fill="#377eb8"/>
<path d="M381.5,355.9 L385.5,362.9 L377.5,362.9 Z" fill="#377eb8"/>
<path d="M383.0,348.6 L387.0,355.6 L379.0,355.6 Z" fill="#377eb8"/>
<circle cx="374.3" cy="353.9" r="2.85" fill="#377eb8"/>
<circle cx="374.7" cy="365.0" r="2.85" fill="#377eb8"/>
<circle cx="378.6" cy="352.6" r="2.85" fill="#377eb8"/>
<circle cx="369.4" cy="371.6" r="2.85" fill="#377eb8"/>
<path d="M394.8,369.8 L398.8,376.8 L390.8,376.8 Z" fill="#377eb8"/>
<path d="M381.7,341.1 L385.7,348.0 L377.7,348.0 Z" fill="#377eb8"/>
<path d="M384.2,346.9 L388.2,353.9 L380.2,353.9 Z" fill="#377eb8"/>
<circle cx="382.5" cy="360.0" r="2.85" fill="#377eb8"/>
<circle cx="377.5" cy="357.3" r="2.85" fill="#377eb8"/>
<path d="M380.9,344.9 L384.9,351.8 L376.9,351.8 Z" fill="#377eb8"/>
<path d="M371.5,355.7 L375.5,362.6 L367.5,362.6 Z" fill="#377eb8"/>
<path d="M392.2,361.0 L396.2,368.0 L388.2,368.0 Z" fill="#377eb8"/>
<path d="M381.6,347.3 L385.6,354.2 L377.6,354.2 Z" fill="#377eb8"/>
<path d="M381.5,339.5 L385.5,346.5 L377.5,346.5 Z" fill="#377eb8"/>
<path d="M389.0,358.9 L393.0,365.8 L385.0,365.8 Z" fill="#377eb8"/>
<path d="M395.2,370.3 L399.2,377.2 L391.2,377.2 Z" fill="#377eb8"/>
<circle cx="383.5" cy="372.3" r="2.85" fill="#377eb8"/>
<path d="M398.3,362.2 L402.3,369.1 L394.3,369.1 Z" fill="#377eb8"/>
<circle cx="384.5" cy="351.8" r="2.85" fill="#377eb8"/>
<path d="M385.8,340.3 L389.8,347.2 L381.8,347.2 Z" fill="#377eb8"/>
<path d="M372.0,363.8 L376.0,370.7 L368.0,370.7 Z" fill="#377eb8"/>
<path d="M398.4,364.8 L402.4,371.7 L394.4,371.7 Z" fill="#377eb8"/>
<path d="M385.5,335.4 L389.5,342.3 L381.5,342.3 Z" fill="#377eb8"/>
<path d="M379.2,362.0 L383.2,368.9 L375.2,368.9 Z" fill="#377eb8"/>
<path d="M366.4,363.2 L370.4,370.1 L362.4,370.1 Z" fill="#377eb8"/>
<path d="M384.0,342.4 L388.0,349.4 L380.0,349.4 Z" fill="#377eb8"/>
<path d="M380.1,351.3 L384.1,358.2 L376.1,358.2 Z" fill="#377eb8"/>
<path d="M381.2,336.9 L385.2,343.9 L377.2,343.9 Z" fill="#377eb8"/>
<path d="M381.2,347.8 L385.2,354.7 L377.2,354.7 Z" fill="#377eb8"/>
<path d="M375.1,357.7 L379.1,364.6 L371.1,364.6 Z" fill="#377eb8"/>
<path d="M366.1,367.7 L370.1,374.6 L362.1,374.6 Z" fill="#377eb8"/>
<circle cx="417.0" cy="299.7" r="2.85" fill="#377eb8"/>
<circle cx="418.2" cy="307.7" r="2.85" fill="#377eb8"/>
<circle cx="415.3" cy="310.7" r="2.85" fill="#377eb8"/>
<circle cx="417.4" cy="314.3" r="2.85" fill="#377eb8"/>
<circle cx="447.4" cy="318.7" r="2.85" fill="#377eb8"/>
<circle cx="451.0" cy="326.7" r="2.85" fill="#377eb8"/>
<circle cx="395.0" cy="329.4" r="2.85" fill="#377eb8"/>
<circle cx="356.7" cy="345.2" r="2.85" fill="#377eb8"/>
<circle cx="367.6" cy="346.2" r="2.85" fill="#377eb8"/>
<circle cx="357.1" cy="344.6" r="2.85" fill="#377eb8"/>
<circle cx="368.1" cy="345.9" r="2.85" fill="#377eb8"/>
<circle cx="444.8" cy="324.3" r="2.85" fill="#377eb8"/>
<circle cx="450.9" cy="327.2" r="2.85" fill="#377eb8"/>
<circle cx="481.9" cy="323.3" r="2.85" fill="#377eb8"/>
<circle cx="450.8" cy="327.0" r="2.85" fill="#377eb8"/>
<circle cx="469.6" cy="341.3" r="2.85" fill="#377eb8"/>
<circle cx="469.0" cy="340.8" r="2.85" fill="#377eb8"/>
<circle cx="462.4" cy="350.2" r="2.85" fill="#377eb8"/>
<circle cx="461.6" cy="352.4" r="2.85" fill="#377eb8"/>
<circle cx="458.0" cy="358.2" r="2.85" fill="#377eb8"/>
<circle cx="458.3" cy="362.4" r="2.85" fill="#377eb8"/>
<circle cx="447.0" cy="365.7" r="2.85" fill="#377eb8"/>
<circle cx="486.5" cy="356.9" r="2.85" fill="#377eb8"/>
<circle cx="501.8" cy="349.1" r="2.85" fill="#377eb8"/>
<circle cx="509.5" cy="352.1" r="2.85" fill="#377eb8"/>
<circle cx="511.8" cy="333.6" r="2.85" fill="#377eb8"/>
<circle cx="516.9" cy="328.6" r="2.85" fill="#377eb8"/>
<circle cx="524.7" cy="324.2" r="2.85" fill="#377eb8"/>
<circle cx="526.4" cy="327.0" r="2.85" fill="#377eb8"/>
<circle cx="523.9" cy="335.0" r="2.85" fill="#377eb8"/>
<circle cx="526.4" cy="336.6" r="2.85" fill="#377eb8"/>
<circle cx="524.7" cy="341.6" r="2.85" fill="#377eb8"/>
<circle cx="526.4" cy="344.1" r="2.85" fill="#377eb8"/>
<circle cx="523.1" cy="348.2" r="2.85" fill="#377eb8"/>
<circle cx="526.4" cy="347.4" r="2.85" fill="#377eb8"/>
<circle cx="526.1" cy="355.4" r="2.85" fill="#377eb8"/>
<circle cx="470.5" cy="292.2" r="2.85" fill="#377eb8"/>
<circle cx="509.0" cy="311.0" r="2.85" fill="#377eb8"/>
<circle cx="521.1" cy="299.7" r="2.85" fill="#377eb8"/>
<circle cx="509.9" cy="285.8" r="2.85" fill="#377eb8"/>
<circle cx="521.6" cy="280.1" r="2.85" fill="#377eb8"/>
<circle cx="522.2" cy="281.4" r="2.85" fill="#377eb8"/>
<circle cx="512.0" cy="274.0" r="2.85" fill="#377eb8"/>
<circle cx="526.7" cy="275.0" r="2.85" fill="#377eb8"/>
<circle cx="521.9" cy="268.1" r="2.85" fill="#377eb8"/>
<circle cx="517.9" cy="259.6" r="2.85" fill="#377eb8"/>
<circle cx="520.0" cy="259.6" r="2.85" fill="#377eb8"/>
<circle cx="522.5" cy="259.6" r="2.85" fill="#377eb8"/>
<circle cx="525.0" cy="259.6" r="2.85" fill="#377eb8"/>
<circle cx="527.0" cy="259.6" r="2.85" fill="#377eb8"/>
<circle cx="524.0" cy="262.0" r="2.85" fill="#377eb8"/>
<circle cx="419.7" cy="362.5" r="2.85" fill="#377eb8"/>
<circle cx="424.5" cy="367.2" r="2.85" fill="#377eb8"/>
<circle cx="437.0" cy="353.0" r="2.85" fill="#377eb8"/>
<circle cx="441.0" cy="350.0" r="2.85" fill="#377eb8"/>
<circle cx="354.2" cy="374.0" r="2.85" fill="#377eb8"/>
<circle cx="374.2" cy="379.6" r="2.85" fill="#377eb8"/>
<circle cx="398.4" cy="380.2" r="2.85" fill="#377eb8"/>
<circle cx="410.7" cy="376.1" r="2.85" fill="#377eb8"/>
<circle cx="353.7" cy="373.8" r="2.85" fill="#377eb8"/>
<circle cx="373.9" cy="382.0" r="2.85" fill="#377eb8"/>
<path d="M402.0,304.0 L406.0,311.0 L398.0,311.0 Z" fill="#377eb8"/>
<path d="M371.3,322.3 L375.3,329.3 L367.3,329.3 Z" fill="#377eb8"/>
<path d="M438.6,320.3 L442.6,327.3 L434.6,327.3 Z" fill="#377eb8"/>
<path d="M471.3,290.3 L475.3,297.3 L467.3,297.3 Z" fill="#377eb8"/>
<path d="M490.6,314.7 L494.6,321.7 L486.6,321.7 Z" fill="#377eb8"/>
<path d="M514.7,334.1 L518.7,341.1 L510.7,341.1 Z" fill="#377eb8"/>
<path d="M514.8,335.6 L518.8,342.6 L510.8,342.6 Z" fill="#377eb8"/>
<path d="M494.0,360.5 L498.0,367.5 L490.0,367.5 Z" fill="#377eb8"/>
<path d="M446.3,345.0 L450.3,352.0 L442.3,352.0 Z" fill="#377eb8"/>
<path d="M383.7,332.0 L387.7,339.0 L379.7,339.0 Z" fill="#377eb8"/>
<path d="M390.3,331.0 L394.3,338.0 L386.3,338.0 Z" fill="#377eb8"/>
<path d="M359.0,374.3 L363.0,381.3 L355.0,381.3 Z" fill="#377eb8"/>
<path d="M351.4,372.4 L355.4,379.4 L347.4,379.4 Z" fill="#377eb8"/>
<path d="M345.5,375.1 L349.5,382.1 L341.5,382.1 Z" fill="#377eb8"/>
<path d="M363.4,376.9 L367.4,383.9 L359.4,383.9 Z" fill="#377eb8"/>
<path d="M367.4,377.5 L371.4,384.5 L363.4,384.5 Z" fill="#377eb8"/>
<path d="M402.6,375.1 L406.6,382.1 L398.6,382.1 Z" fill="#377eb8"/>
<path d="M404.5,380.5 L408.5,387.5 L400.5,387.5 Z" fill="#377eb8"/>
<path d="M400.5,370.5 L404.5,377.5 L396.5,377.5 Z" fill="#377eb8"/>
<path d="M398.0,366.5 L402.0,373.5 L394.0,373.5 Z" fill="#377eb8"/>
<circle cx="329.7" cy="329.1" r="2.85" fill="#984ea3"/>
<circle cx="328.2" cy="336.4" r="2.85" fill="#984ea3"/>
<circle cx="332.6" cy="336.7" r="2.85" fill="#984ea3"/>
<circle cx="335.5" cy="339.6" r="2.85" fill="#984ea3"/>
<circle cx="328.2" cy="341.1" r="2.85" fill="#984ea3"/>
<circle cx="330.4" cy="342.6" r="2.85" fill="#984ea3"/>
<circle cx="329.7" cy="348.4" r="2.85" fill="#984ea3"/>
<circle cx="331.0" cy="338.5" r="2.85" fill="#984ea3"/>
<circle cx="388.5" cy="259.4" r="2.85" fill="#e41a1c"/>
<path d="M402.0,313.7 L406.0,320.7 L398.0,320.7 Z" fill="#e41a1c"/>
<path d="M346.5,371.7 L350.5,378.7 L342.5,378.7 Z" fill="#e41a1c"/>
<path d="M410.1,370.5 L414.1,377.5 L406.1,377.5 Z" fill="#e41a1c"/>
<circle cx="419.7" cy="375.2" r="2.85" fill="#e41a1c"/>
<path d="M387.3,410.1 L391.3,417.1 L383.3,417.1 Z" fill="#e41a1c"/>
<path d="M397.8,410.1 L401.8,417.1 L393.8,417.1 Z" fill="#e41a1c"/>
<path d="M410.1,410.1 L414.1,417.1 L406.1,417.1 Z" fill="#e41a1c"/>
<circle cx="417.1" cy="413.8" r="2.85" fill="#e41a1c"/>
<circle cx="421.5" cy="413.8" r="2.85" fill="#e41a1c"/>
<circle cx="425.0" cy="413.8" r="2.85" fill="#e41a1c"/>
<circle cx="434.6" cy="413.8" r="2.85" fill="#e41a1c"/>
<line x1="404.6" y1="405.7" x2="413.6" y2="398" stroke="#6cbf6a" stroke-width="1"/>
<circle cx="362.8" cy="410.6" r="2.85" fill="#4daf4a"/>
<circle cx="386.4" cy="405.0" r="2.85" fill="#4daf4a"/>
<circle cx="404.6" cy="405.7" r="2.85" fill="#4daf4a"/>
<line x1="311.10" y1="427.66" x2="544.50" y2="245.94" stroke="#000" stroke-width="1.3" stroke-dasharray="5.0 5.3" stroke-dashoffset="0.72"/>
</g>
<rect x="318.8" y="252.3" width="217.9" height="168.5" fill="none" stroke="#333" stroke-width="1.1"/>
<rect x="340.9" y="385.7" width="63.6" height="14.4" rx="2" fill="#fff" stroke="#62b960" stroke-width="1"/>
<text x="372.7" y="394.8" font-size="7.4" fill="#4dae4a" stroke="#4dae4a" stroke-width="0.1" text-anchor="middle"><tspan font-style="italic">KIT</tspan> p.Asp816Tyr</text>
<rect x="413.4" y="386.8" width="60.4" height="14.7" rx="2" fill="#fff" stroke="#62b960" stroke-width="1"/>
<text x="443.6" y="396.2" font-size="7.4" fill="#4dae4a" stroke="#4dae4a" stroke-width="0.1" text-anchor="middle"><tspan font-style="italic">WT1</tspan> p.Tyr177 *</text>
<text x="550.5" y="269.0" font-size="13.1" fill="#000" text-anchor="start" stroke="#000" stroke-width="0.25" >Variant Type</text>
<circle cx="560.2" cy="287.7" r="3" fill="#000"/>
<path d="M560.2,304.4 L564.4,311.6 L556.0,311.6 Z" fill="#000"/>
<text x="577.4" y="291.6" font-size="10.65" fill="#000" text-anchor="start" stroke="#000" stroke-width="0.25" >SNV</text>
<text x="577.4" y="311.6" font-size="10.65" fill="#000" text-anchor="start" stroke="#000" stroke-width="0.25" >indel</text>
<text x="550.3" y="356.3" font-size="13.1" fill="#000" text-anchor="start" stroke="#000" stroke-width="0.25" >Concordance Status</text>
<text x="560.1" y="377.2" font-size="7.8" fill="#e41a1c" text-anchor="middle" stroke="#e41a1c" stroke-width="0.12" >a</text>
<text x="577.4" y="378.6" font-size="10.65" fill="#000" text-anchor="start" stroke="#000" stroke-width="0.25" >Low WGS/WES Depth</text>
<text x="560.1" y="397.9" font-size="7.8" fill="#377eb8" text-anchor="middle" stroke="#377eb8" stroke-width="0.12" >a</text>
<text x="577.4" y="399.3" font-size="10.65" fill="#000" text-anchor="start" stroke="#000" stroke-width="0.25" >Concordant</text>
<text x="560.1" y="418.8" font-size="7.8" fill="#4daf4a" text-anchor="middle" stroke="#4daf4a" stroke-width="0.12" >a</text>
<text x="577.4" y="420.2" font-size="10.65" fill="#000" text-anchor="start" stroke="#000" stroke-width="0.25" >Unique to RNA−Seq</text>
<text x="560.1" y="439.7" font-size="7.8" fill="#984ea3" text-anchor="middle" stroke="#984ea3" stroke-width="0.12" >a</text>
<text x="577.4" y="441.1" font-size="10.65" fill="#000" text-anchor="start" stroke="#000" stroke-width="0.25" >Unique to WGS</text>
<text x="2.3" y="465.8" font-size="14" fill="#000" text-anchor="start" stroke="#000" stroke-width="0.25" font-weight="bold">D</text>
<rect x="41.8" y="460.3" width="151.4" height="140.5" fill="#fff"/>
<line x1="48.9" y1="460.3" x2="48.9" y2="600.8" stroke="#ececec" stroke-width="0.6"/>
<line x1="68.4" y1="460.3" x2="68.4" y2="600.8" stroke="#ebebeb" stroke-width="1.0"/>
<line x1="87.9" y1="460.3" x2="87.9" y2="600.8" stroke="#ececec" stroke-width="0.6"/>
<line x1="107.5" y1="460.3" x2="107.5" y2="600.8" stroke="#ebebeb" stroke-width="1.0"/>
<line x1="127.0" y1="460.3" x2="127.0" y2="600.8" stroke="#ececec" stroke-width="0.6"/>
<line x1="146.5" y1="460.3" x2="146.5" y2="600.8" stroke="#ebebeb" stroke-width="1.0"/>
<line x1="166.1" y1="460.3" x2="166.1" y2="600.8" stroke="#ececec" stroke-width="0.6"/>
<line x1="185.6" y1="460.3" x2="185.6" y2="600.8" stroke="#ebebeb" stroke-width="1.0"/>
<line x1="41.8" y1="466.2" x2="193.2" y2="466.2" stroke="#ebebeb" stroke-width="1"/>
<line x1="38.8" y1="466.2" x2="41.8" y2="466.2" stroke="#333" stroke-width="1"/>
<text x="36.8" y="468.8" font-size="7.2" fill="#4d4d4d" text-anchor="end" stroke="#4d4d4d" stroke-width="0.12" >99−91</text>
<line x1="41.8" y1="476.9" x2="193.2" y2="476.9" stroke="#ebebeb" stroke-width="1"/>
<line x1="38.8" y1="476.9" x2="41.8" y2="476.9" stroke="#333" stroke-width="1"/>
<text x="36.8" y="479.5" font-size="7.2" fill="#4d4d4d" text-anchor="end" stroke="#4d4d4d" stroke-width="0.12" >95−81</text>
<line x1="41.8" y1="487.6" x2="193.2" y2="487.6" stroke="#ebebeb" stroke-width="1"/>
<line x1="38.8" y1="487.6" x2="41.8" y2="487.6" stroke="#333" stroke-width="1"/>
<text x="36.8" y="490.2" font-size="7.2" fill="#4d4d4d" text-anchor="end" stroke="#4d4d4d" stroke-width="0.12" >91−01</text>
<line x1="41.8" y1="498.2" x2="193.2" y2="498.2" stroke="#ebebeb" stroke-width="1"/>
<line x1="38.8" y1="498.2" x2="41.8" y2="498.2" stroke="#333" stroke-width="1"/>
<text x="36.8" y="500.8" font-size="7.2" fill="#4d4d4d" text-anchor="end" stroke="#4d4d4d" stroke-width="0.12" >79−01</text>
<line x1="41.8" y1="508.9" x2="193.2" y2="508.9" stroke="#ebebeb" stroke-width="1"/>
<line x1="38.8" y1="508.9" x2="41.8" y2="508.9" stroke="#333" stroke-width="1"/>
<text x="36.8" y="511.5" font-size="7.2" fill="#4d4d4d" text-anchor="end" stroke="#4d4d4d" stroke-width="0.12" >178−03</text>
<line x1="41.8" y1="519.6" x2="193.2" y2="519.6" stroke="#ebebeb" stroke-width="1"/>
<line x1="38.8" y1="519.6" x2="41.8" y2="519.6" stroke="#333" stroke-width="1"/>
<text x="36.8" y="522.2" font-size="7.2" fill="#4d4d4d" text-anchor="end" stroke="#4d4d4d" stroke-width="0.12" >147−69</text>
<line x1="41.8" y1="530.3" x2="193.2" y2="530.3" stroke="#ebebeb" stroke-width="1"/>
<line x1="38.8" y1="530.3" x2="41.8" y2="530.3" stroke="#333" stroke-width="1"/>
<text x="36.8" y="532.9" font-size="7.2" fill="#4d4d4d" text-anchor="end" stroke="#4d4d4d" stroke-width="0.12" >145−15</text>
<line x1="41.8" y1="541.0" x2="193.2" y2="541.0" stroke="#ebebeb" stroke-width="1"/>
<line x1="38.8" y1="541.0" x2="41.8" y2="541.0" stroke="#333" stroke-width="1"/>
<text x="36.8" y="543.6" font-size="7.2" fill="#4d4d4d" text-anchor="end" stroke="#4d4d4d" stroke-width="0.12" >119−29</text>
<line x1="41.8" y1="551.6" x2="193.2" y2="551.6" stroke="#ebebeb" stroke-width="1"/>
<line x1="38.8" y1="551.6" x2="41.8" y2="551.6" stroke="#333" stroke-width="1"/>
<text x="36.8" y="554.2" font-size="7.2" fill="#4d4d4d" text-anchor="end" stroke="#4d4d4d" stroke-width="0.12" >119−19</text>
<line x1="41.8" y1="562.3" x2="193.2" y2="562.3" stroke="#ebebeb" stroke-width="1"/>
<line x1="38.8" y1="562.3" x2="41.8" y2="562.3" stroke="#333" stroke-width="1"/>
<text x="36.8" y="564.9" font-size="7.2" fill="#4d4d4d" text-anchor="end" stroke="#4d4d4d" stroke-width="0.12" >114−26</text>
<line x1="41.8" y1="573.0" x2="193.2" y2="573.0" stroke="#ebebeb" stroke-width="1"/>
<line x1="38.8" y1="573.0" x2="41.8" y2="573.0" stroke="#333" stroke-width="1"/>
<text x="36.8" y="575.6" font-size="7.2" fill="#4d4d4d" text-anchor="end" stroke="#4d4d4d" stroke-width="0.12" >109−14</text>
<line x1="41.8" y1="583.7" x2="193.2" y2="583.7" stroke="#ebebeb" stroke-width="1"/>
<line x1="38.8" y1="583.7" x2="41.8" y2="583.7" stroke="#333" stroke-width="1"/>
<text x="36.8" y="586.3" font-size="7.2" fill="#4d4d4d" text-anchor="end" stroke="#4d4d4d" stroke-width="0.12" >108−24</text>
<line x1="41.8" y1="594.4" x2="193.2" y2="594.4" stroke="#ebebeb" stroke-width="1"/>
<line x1="38.8" y1="594.4" x2="41.8" y2="594.4" stroke="#333" stroke-width="1"/>
<text x="36.8" y="597.0" font-size="7.2" fill="#4d4d4d" text-anchor="end" stroke="#4d4d4d" stroke-width="0.12" >106−78</text>
<rect x="41.8" y="605.5" width="151.4" height="33.7" fill="#fff"/>
<line x1="48.9" y1="605.5" x2="48.9" y2="639.2" stroke="#ececec" stroke-width="0.6"/>
<line x1="68.4" y1="605.5" x2="68.4" y2="639.2" stroke="#ebebeb" stroke-width="1.0"/>
<line x1="87.9" y1="605.5" x2="87.9" y2="639.2" stroke="#ececec" stroke-width="0.6"/>
<line x1="107.5" y1="605.5" x2="107.5" y2="639.2" stroke="#ebebeb" stroke-width="1.0"/>
<line x1="127.0" y1="605.5" x2="127.0" y2="639.2" stroke="#ececec" stroke-width="0.6"/>
<line x1="146.5" y1="605.5" x2="146.5" y2="639.2" stroke="#ebebeb" stroke-width="1.0"/>
<line x1="166.1" y1="605.5" x2="166.1" y2="639.2" stroke="#ececec" stroke-width="0.6"/>
<line x1="185.6" y1="605.5" x2="185.6" y2="639.2" stroke="#ebebeb" stroke-width="1.0"/>
<line x1="41.8" y1="611.9" x2="193.2" y2="611.9" stroke="#ebebeb" stroke-width="1"/>
<line x1="38.8" y1="611.9" x2="41.8" y2="611.9" stroke="#333" stroke-width="1"/>
<text x="36.8" y="614.5" font-size="7.2" fill="#4d4d4d" text-anchor="end" stroke="#4d4d4d" stroke-width="0.12" >95−81</text>
<line x1="41.8" y1="622.6" x2="193.2" y2="622.6" stroke="#ebebeb" stroke-width="1"/>
<line x1="38.8" y1="622.6" x2="41.8" y2="622.6" stroke="#333" stroke-width="1"/>
<text x="36.8" y="625.2" font-size="7.2" fill="#4d4d4d" text-anchor="end" stroke="#4d4d4d" stroke-width="0.12" >119−19</text>
<line x1="41.8" y1="633.3" x2="193.2" y2="633.3" stroke="#ebebeb" stroke-width="1"/>
<line x1="38.8" y1="633.3" x2="41.8" y2="633.3" stroke="#333" stroke-width="1"/>
<text x="36.8" y="635.9" font-size="7.2" fill="#4d4d4d" text-anchor="end" stroke="#4d4d4d" stroke-width="0.12" >106−78</text>
<circle cx="54.3" cy="466.2" r="2.9" fill="#d7191c"/>
<circle cx="185.5" cy="466.2" r="2.9" fill="#fdae61"/>
<path d="M187.3,462.4 L191.3,469.4 L183.3,469.4 Z" fill="#abdda4"/>
<circle cx="49.9" cy="476.9" r="2.9" fill="#d7191c"/>
<circle cx="167.8" cy="476.9" r="2.9" fill="#fdae61"/>
<path d="M104.4,483.8 L108.4,490.7 L100.4,490.7 Z" fill="#d7191c"/>
<circle cx="185.8" cy="498.2" r="2.9" fill="#fdae61"/>
<path d="M104.4,505.2 L108.4,512.1 L100.4,512.1 Z" fill="#d7191c"/>
<circle cx="47.9" cy="519.6" r="2.9" fill="#fdae61"/>
<path d="M180.2,515.8 L184.2,522.8 L176.2,522.8 Z" fill="#fdae61"/>
<circle cx="50.7" cy="530.3" r="2.9" fill="#fdae61"/>
<circle cx="151.0" cy="530.3" r="2.9" fill="#fdae61"/>
<circle cx="58.6" cy="541.0" r="2.9" fill="#fdae61"/>
<path d="M185.8,537.2 L189.8,544.1 L181.8,544.1 Z" fill="#fdae61"/>
<path d="M185.8,547.9 L189.8,554.8 L181.8,554.8 Z" fill="#fdae61"/>
<circle cx="50.7" cy="562.3" r="2.9" fill="#d7191c"/>
<circle cx="156.3" cy="562.3" r="2.9" fill="#2b83ba"/>
<circle cx="49.8" cy="573.0" r="2.9" fill="#d7191c"/>
<circle cx="157.9" cy="573.0" r="2.9" fill="#fdae61"/>
<circle cx="53.8" cy="583.7" r="2.9" fill="#d7191c"/>
<circle cx="167.5" cy="583.7" r="2.9" fill="#fdae61"/>
<circle cx="49.8" cy="594.4" r="2.9" fill="#d7191c"/>
<circle cx="167.8" cy="594.4" r="2.9" fill="#fdae61"/>
<circle cx="49.9" cy="611.9" r="2.9" fill="#d7191c"/>
<circle cx="168.0" cy="611.9" r="2.9" fill="#fdae61"/>
<circle cx="185.8" cy="622.6" r="2.9" fill="#fdae61"/>
<circle cx="49.9" cy="633.3" r="2.9" fill="#d7191c"/>
<path d="M168.0,629.5 L172.0,636.4 L164.0,636.4 Z" fill="#fdae61"/>
<rect x="41.8" y="460.3" width="151.4" height="140.5" fill="none" stroke="#333" stroke-width="1.1"/>
<rect x="193.2" y="460.3" width="16.4" height="140.5" fill="#d9d9d9" stroke="#333" stroke-width="1.1"/>
<rect x="41.8" y="605.5" width="151.4" height="33.7" fill="none" stroke="#333" stroke-width="1.1"/>
<rect x="193.2" y="605.5" width="16.4" height="33.7" fill="#d9d9d9" stroke="#333" stroke-width="1.1"/>
<text font-size="7.2" fill="#1a1a1a" stroke="#1a1a1a" stroke-width="0.1" text-anchor="middle" transform="translate(199.2,530.5) rotate(90)">RNA vs. WES</text>
<text font-size="7.2" fill="#1a1a1a" stroke="#1a1a1a" stroke-width="0.1" text-anchor="middle" transform="translate(199.2,622.4) rotate(90)">vs. WGS</text>
<line x1="68.4" y1="639.2" x2="68.4" y2="642.6" stroke="#333" stroke-width="1"/>
<text x="68.4" y="648.6" font-size="7.2" fill="#4d4d4d" text-anchor="middle" stroke="#4d4d4d" stroke-width="0.12" >33,792,500</text>
<line x1="107.5" y1="639.2" x2="107.5" y2="642.6" stroke="#333" stroke-width="1"/>
<text x="107.5" y="648.6" font-size="7.2" fill="#4d4d4d" text-anchor="middle" stroke="#4d4d4d" stroke-width="0.12" >33,792,750</text>
<line x1="146.5" y1="639.2" x2="146.5" y2="642.6" stroke="#333" stroke-width="1"/>
<text x="146.5" y="648.6" font-size="7.2" fill="#4d4d4d" text-anchor="middle" stroke="#4d4d4d" stroke-width="0.12" >33,793,000</text>
<line x1="185.6" y1="639.2" x2="185.6" y2="642.6" stroke="#333" stroke-width="1"/>
<text x="185.6" y="648.6" font-size="7.2" fill="#4d4d4d" text-anchor="middle" stroke="#4d4d4d" stroke-width="0.12" >33,793,250</text>
<text x="117.2" y="661.4" font-size="9.6" fill="#000" text-anchor="middle" stroke="#000" stroke-width="0.25" >Chr19 Chromosomal coordinate</text>
<text font-size="9.6" fill="#000" stroke="#000" stroke-width="0.25" text-anchor="middle" transform="translate(7.4,549) rotate(-90)">Patient Identifier</text>
<text x="224.7" y="471.4" font-size="9.6" fill="#000" text-anchor="start" stroke="#000" stroke-width="0.25" >Concordance Status</text>
<circle cx="234.9" cy="488.3" r="3" fill="#000"/>
<path d="M234.9,505.1 L238.9,512.1 L230.9,512.1 Z" fill="#000"/>
<text x="250.4" y="491.5" font-size="9.6" fill="#000" text-anchor="start" stroke="#000" stroke-width="0.25" >Concordant</text>
<text x="250.4" y="511.6" font-size="9.6" fill="#000" text-anchor="start" stroke="#000" stroke-width="0.25" >RNA−Seq Only</text>
<text x="224.7" y="547.2" font-size="9.6" fill="#000" text-anchor="start" stroke="#000" stroke-width="0.25" >Impact</text>
<circle cx="234.8" cy="563.8" r="3.1" fill="#d7191c"/>
<text x="250.3" y="567.1" font-size="9.6" fill="#000" text-anchor="start" stroke="#000" stroke-width="0.25" >Conservative indel</text>
<circle cx="234.8" cy="584.9" r="3.1" fill="#fdae61"/>
<text x="250.3" y="588.2" font-size="9.6" fill="#000" text-anchor="start" stroke="#000" stroke-width="0.25" >Disruptive indel</text>
<circle cx="234.8" cy="605.5" r="3.1" fill="#abdda4"/>
<text x="250.3" y="608.8" font-size="9.6" fill="#000" text-anchor="start" stroke="#000" stroke-width="0.25" >Missense mutation</text>
<circle cx="234.8" cy="626.4" r="3.1" fill="#2b83ba"/>
<text x="250.3" y="629.7" font-size="9.6" fill="#000" text-anchor="start" stroke="#000" stroke-width="0.25" >Nonsense mutation</text>
<text x="326.7" y="466.6" font-size="14" fill="#000" text-anchor="start" stroke="#000" stroke-width="0.25" font-weight="bold">E</text>
<rect x="445.5" y="462.2" width="134.6" height="176.9" fill="#fff"/>
<line x1="451.4" y1="462.2" x2="451.4" y2="639.1" stroke="#ebebeb" stroke-width="1.0"/>
<line x1="466.8" y1="462.2" x2="466.8" y2="639.1" stroke="#ececec" stroke-width="0.6"/>
<line x1="482.2" y1="462.2" x2="482.2" y2="639.1" stroke="#ebebeb" stroke-width="1.0"/>
<line x1="497.6" y1="462.2" x2="497.6" y2="639.1" stroke="#ececec" stroke-width="0.6"/>
<line x1="513.0" y1="462.2" x2="513.0" y2="639.1" stroke="#ebebeb" stroke-width="1.0"/>
<line x1="528.4" y1="462.2" x2="528.4" y2="639.1" stroke="#ececec" stroke-width="0.6"/>
<line x1="543.8" y1="462.2" x2="543.8" y2="639.1" stroke="#ebebeb" stroke-width="1.0"/>
<line x1="559.2" y1="462.2" x2="559.2" y2="639.1" stroke="#ececec" stroke-width="0.6"/>
<line x1="574.6" y1="462.2" x2="574.6" y2="639.1" stroke="#ebebeb" stroke-width="1.0"/>
<line x1="445.5" y1="487.1" x2="580.1" y2="487.1" stroke="#ebebeb" stroke-width="1"/>
<line x1="441.5" y1="487.1" x2="445.5" y2="487.1" stroke="#333" stroke-width="1"/>
<text x="439.2" y="490.9" font-size="10.8" fill="#4d4d4d" text-anchor="end" stroke="#4d4d4d" stroke-width="0.25" >gatk−haplotype</text>
<line x1="445.5" y1="529.5" x2="580.1" y2="529.5" stroke="#ebebeb" stroke-width="1"/>
<line x1="441.5" y1="529.5" x2="445.5" y2="529.5" stroke="#333" stroke-width="1"/>
<text x="439.2" y="533.3" font-size="10.8" fill="#4d4d4d" text-anchor="end" stroke="#4d4d4d" stroke-width="0.25" >freebayes</text>
<line x1="445.5" y1="571.8" x2="580.1" y2="571.8" stroke="#ebebeb" stroke-width="1"/>
<line x1="441.5" y1="571.8" x2="445.5" y2="571.8" stroke="#333" stroke-width="1"/>
<text x="439.2" y="575.6" font-size="10.8" fill="#4d4d4d" text-anchor="end" stroke="#4d4d4d" stroke-width="0.25" >varscan</text>
<line x1="445.5" y1="614.2" x2="580.1" y2="614.2" stroke="#ebebeb" stroke-width="1"/>
<line x1="441.5" y1="614.2" x2="445.5" y2="614.2" stroke="#333" stroke-width="1"/>
<text x="439.2" y="618.0" font-size="10.8" fill="#4d4d4d" text-anchor="end" stroke="#4d4d4d" stroke-width="0.25" >ensemble</text>
<line x1="451.4" y1="639.1" x2="451.4" y2="642.9" stroke="#333" stroke-width="1"/>
<text x="451.4" y="654.0" font-size="10.7" fill="#4d4d4d" text-anchor="middle" stroke="#4d4d4d" stroke-width="0.25" >0.80</text>
<line x1="482.2" y1="639.1" x2="482.2" y2="642.9" stroke="#333" stroke-width="1"/>
<text x="482.2" y="654.0" font-size="10.7" fill="#4d4d4d" text-anchor="middle" stroke="#4d4d4d" stroke-width="0.25" >0.85</text>
<line x1="513.0" y1="639.1" x2="513.0" y2="642.9" stroke="#333" stroke-width="1"/>
<text x="513.0" y="654.0" font-size="10.7" fill="#4d4d4d" text-anchor="middle" stroke="#4d4d4d" stroke-width="0.25" >0.90</text>
<line x1="543.8" y1="639.1" x2="543.8" y2="642.9" stroke="#333" stroke-width="1"/>
<text x="543.8" y="654.0" font-size="10.7" fill="#4d4d4d" text-anchor="middle" stroke="#4d4d4d" stroke-width="0.25" >0.95</text>
<line x1="574.6" y1="639.1" x2="574.6" y2="642.9" stroke="#333" stroke-width="1"/>
<text x="574.6" y="654.0" font-size="10.7" fill="#4d4d4d" text-anchor="middle" stroke="#4d4d4d" stroke-width="0.25" >1.00</text>
<line x1="541.2" y1="479.1" x2="570.9" y2="479.1" stroke="#d95f02" stroke-width="1.4"/>
<circle cx="561.1" cy="479.1" r="4.4" fill="#d95f02"/>
<line x1="550.6" y1="495.1" x2="573.6" y2="495.1" stroke="#1b9e77" stroke-width="1.4"/>
<circle cx="565.2" cy="495.1" r="4.4" fill="#1b9e77"/>
<line x1="536.3" y1="521.5" x2="569.2" y2="521.5" stroke="#d95f02" stroke-width="1.4"/>
<circle cx="557.8" cy="521.5" r="4.4" fill="#d95f02"/>
<line x1="562" y1="537.5" x2="576.5" y2="537.5" stroke="#1b9e77" stroke-width="1.4"/>
<circle cx="574.7" cy="537.5" r="4.4" fill="#1b9e77"/>
<line x1="535.9" y1="563.8" x2="569.2" y2="563.8" stroke="#d95f02" stroke-width="1.4"/>
<circle cx="557.8" cy="563.8" r="4.4" fill="#d95f02"/>
<line x1="562" y1="579.8" x2="576.5" y2="579.8" stroke="#1b9e77" stroke-width="1.4"/>
<circle cx="574.4" cy="579.8" r="4.4" fill="#1b9e77"/>
<line x1="535.9" y1="606.2" x2="569.2" y2="606.2" stroke="#d95f02" stroke-width="1.4"/>
<circle cx="557.8" cy="606.2" r="4.4" fill="#d95f02"/>
<line x1="562" y1="622.2" x2="576.5" y2="622.2" stroke="#1b9e77" stroke-width="1.4"/>
<circle cx="574.4" cy="622.2" r="4.4" fill="#1b9e77"/>
<rect x="445.5" y="462.2" width="134.6" height="176.9" fill="none" stroke="#333" stroke-width="1.1"/>
<text font-size="13" fill="#000" stroke="#000" stroke-width="0.25" text-anchor="middle" transform="translate(359.3,550.6) rotate(-90)">Caller</text>
<text x="600.7" y="531.5" font-size="13.1" fill="#000" text-anchor="start" stroke="#000" stroke-width="0.25" >Metric</text>
<line x1="611" y1="541.9" x2="611" y2="557.9" stroke="#1b9e77" stroke-width="1.4"/>
<circle cx="611" cy="549.9" r="4.4" fill="#1b9e77"/>
<text x="628.3" y="553.7" font-size="10.65" fill="#000" text-anchor="start" stroke="#000" stroke-width="0.25" >PPV</text>
<line x1="611" y1="563" x2="611" y2="579" stroke="#d95f02" stroke-width="1.4"/>
<circle cx="611" cy="571" r="4.4" fill="#d95f02"/>
<text x="628.3" y="574.8" font-size="10.65" fill="#000" text-anchor="start" stroke="#000" stroke-width="0.25" >Sensitivity</text>
</svg>
</body></html>
